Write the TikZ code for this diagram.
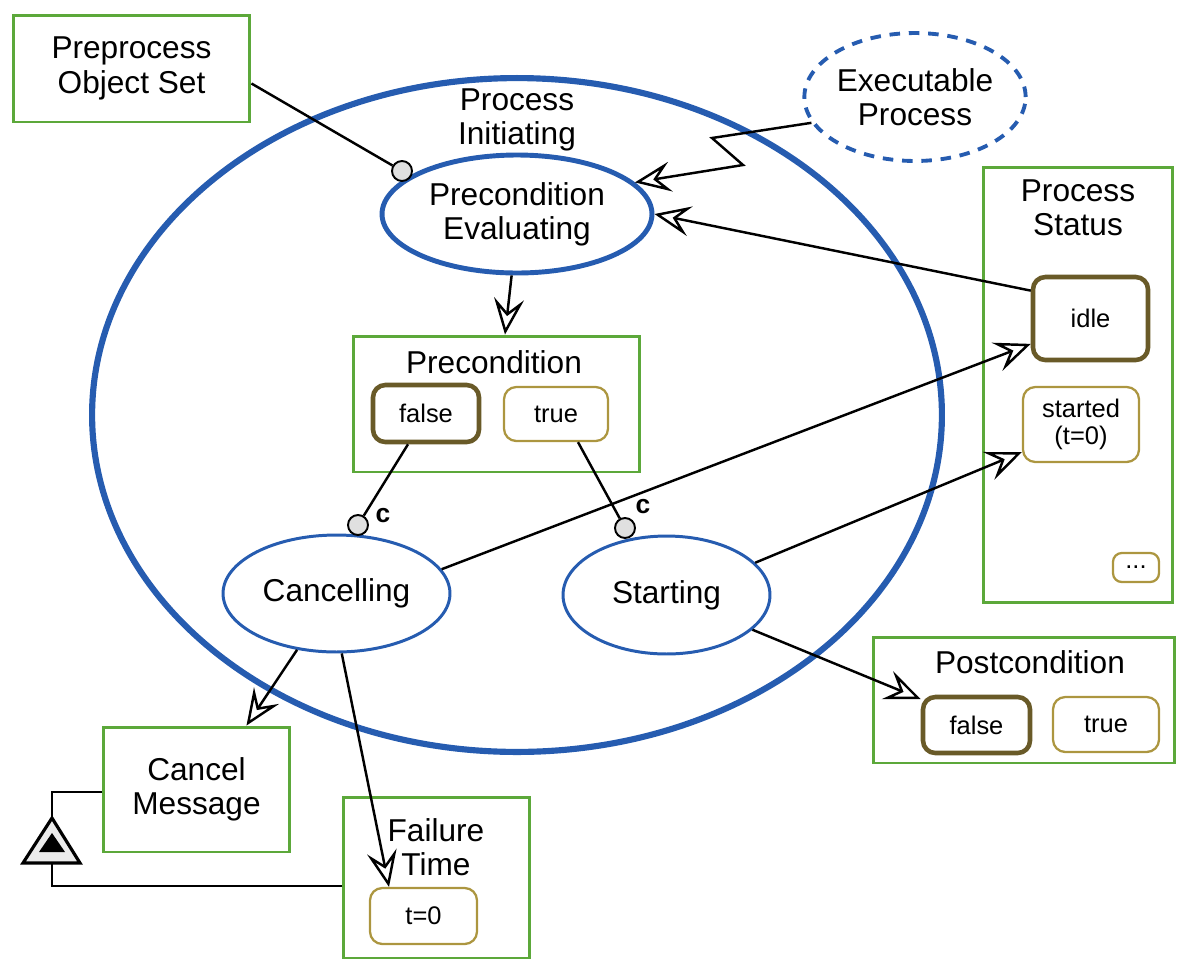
\documentclass[tikz,border=0pt]{standalone}
\usepackage{fontspec}
\setmainfont{Liberation Sans}
\usepackage{xcolor}
\usepackage{tikz}
\usetikzlibrary{arrows.meta, shapes.geometric}

\definecolor{opmgreen}{RGB}{92,168,58}
\definecolor{opmblue}{RGB}{38,92,176}
\definecolor{statedark}{RGB}{105,90,40}
\definecolor{statelight}{RGB}{172,150,64}

\begin{document}
\begin{tikzpicture}[x=0.02cm, y=-0.02cm, font=\fontsize{18}{19.5}\selectfont,
  obj/.style={draw=opmgreen, line width=1.7pt, align=center, inner sep=0pt},
  proc/.style={ellipse, draw=opmblue, align=center, inner sep=0pt},
  state/.style={draw=statelight, line width=1.3pt, rounded corners=7pt, align=center, inner sep=0pt, font=\fontsize{14.5}{15.5}\selectfont},
  curstate/.style={state, draw=statedark, line width=2.6pt},
  link/.style={line width=1.4pt},
  reslink/.style={link, -{Stealth[open, fill=white, length=0.72cm, width=0.6cm, inset=0.28cm]}},
  lolly/.style={circle, draw, fill=black!12, line width=1.1pt, minimum size=0.4cm, inner sep=0pt},
  condlbl/.style={font=\fontsize{15}{15}\selectfont\bfseries}]
  \useasboundingbox (0,0) rectangle (1177,961);

  % --- Process Initiating ---
  \node[proc, line width=3.5pt, minimum width=17cm, minimum height=13.48cm] (initiating) at (517,415) {};
  \node[align=center] (initname) at (517,120) {Process\\Initiating};
  \node[proc, line width=2.8pt, minimum width=5.4cm, minimum height=2.36cm] (preeval) at (517,214) {Precondition\\Evaluating};
  \node[proc, line width=1.7pt, minimum width=4.54cm, minimum height=2.34cm] (cancelling) at (336.5,593.5) {Cancelling};
  \node[proc, line width=1.7pt, minimum width=4.14cm, minimum height=2.36cm] (starting) at (666.5,595) {Starting};
  % Precondition
  \node[obj, minimum width=5.74cm, minimum height=2.72cm] (precond) at (496.5,404) {};
  \node (precondname) at (494,362) {Precondition};
  \node[curstate, minimum width=2.12cm, minimum height=1.14cm] (prefalse) at (426,413.5) {false};
  \node[state, minimum width=2.08cm, minimum height=1.08cm] (pretrue) at (556,414) {true};

  % --- Outside ---
  \node[obj, minimum width=4.74cm, minimum height=2.14cm] (preobj) at (131.5,68.5) {Preprocess\\Object Set};
  \node[proc, line width=2.2pt, dash pattern=on 6pt off 5pt, minimum width=4cm, minimum height=2.56cm] (exec) at (915,97) {Executable\\Process};
  % Process Status
  \node[obj, minimum width=3.8cm, minimum height=8.72cm] (status) at (1078,385) {};
  \node[align=center] (statusname) at (1078,208) {Process\\Status};
  \node[curstate, minimum width=2.3cm, minimum height=1.66cm] (idle) at (1090.5,318.5) {idle};
  \node[state, minimum width=2.32cm, minimum height=1.5cm] (started) at (1081,424.5) {started\\(t=0)};
  \node[state, rounded corners=5pt, minimum width=0.92cm, minimum height=0.58cm] (more) at (1136,567.5) {...};
  % Postcondition
  \node[obj, minimum width=6.04cm, minimum height=2.52cm] (postcond) at (1024,700) {};
  \node (postcondname) at (1030,662) {Postcondition};
  \node[curstate, minimum width=2.14cm, minimum height=1.12cm] (postfalse) at (976.5,725) {false};
  \node[state, minimum width=2.12cm, minimum height=1.1cm] (posttrue) at (1106,724.5) {true};
  % Cancel Message, Failure Time
  \node[obj, minimum width=3.74cm, minimum height=2.5cm] (cancelmsg) at (196.5,789.5) {Cancel\\Message};
  \node[obj, minimum width=3.74cm, minimum height=3.22cm] (failtime) at (436.5,877.5) {};
  \node[align=center] (failname) at (436,847) {Failure\\Time};
  \node[state, minimum width=2.14cm, minimum height=1.12cm] (tzero) at (423.5,916) {t=0};

  % --- Condition and instrument links ---
  \node[lolly] (evalc) at (402,171) {};
  \node[lolly] (cancelc) at (358,525) {};
  \node[lolly] (startc) at (625,528) {};
  \node[condlbl] (cancellbl) at (383,516) {c};
  \node[condlbl] (startlbl) at (643,507) {c};
  \draw[link] ([yshift=-0.3cm]preobj.east) -- (evalc);
  \draw[link] ([xshift=-0.36cm]prefalse.south) -- (cancelc);
  \draw[link] ([xshift=0.44cm]pretrue.south) -- (startc);

  % --- Effect and result links ---
  \coordinate (zig1) at (712,138);
  \coordinate (zig2) at (743,165);
  \draw[reslink] (exec.194) -- (zig1) -- (zig2) -- (preeval.15);
  \draw[reslink] (idle.155) -- (preeval.0);
  \draw[reslink] (preeval.265) -- ([xshift=0.17cm]precond.north);
  \draw[reslink] (cancelling.13) -- (idle.203);
  \draw[reslink] (starting.20) -- (started.205);
  \draw[reslink] (starting.338) -- (postfalse.155);
  \draw[reslink] (cancelling.235) -- ([xshift=1cm]cancelmsg.north);
  \draw[reslink] (cancelling.275) -- ([xshift=-0.69cm]tzero.north);

  % --- Exhibition ---
  \coordinate (extop) at (52,818);
  \coordinate (exbase) at (52,863);
  \coordinate (exhigh) at (52,792);
  \coordinate (exlow) at (52,886);
  \draw[line width=1.8pt, fill=black!8] (23,863) -- (extop) -- (80,863) -- cycle;
  \fill (39,852) -- (52,833) -- (65,852) -- cycle;
  \draw[link] (extop) -- (exhigh) -- (exhigh -| cancelmsg.west);
  \draw[link] (exbase) -- (exlow) -- (exlow -| failtime.west);
\end{tikzpicture}
\end{document}
